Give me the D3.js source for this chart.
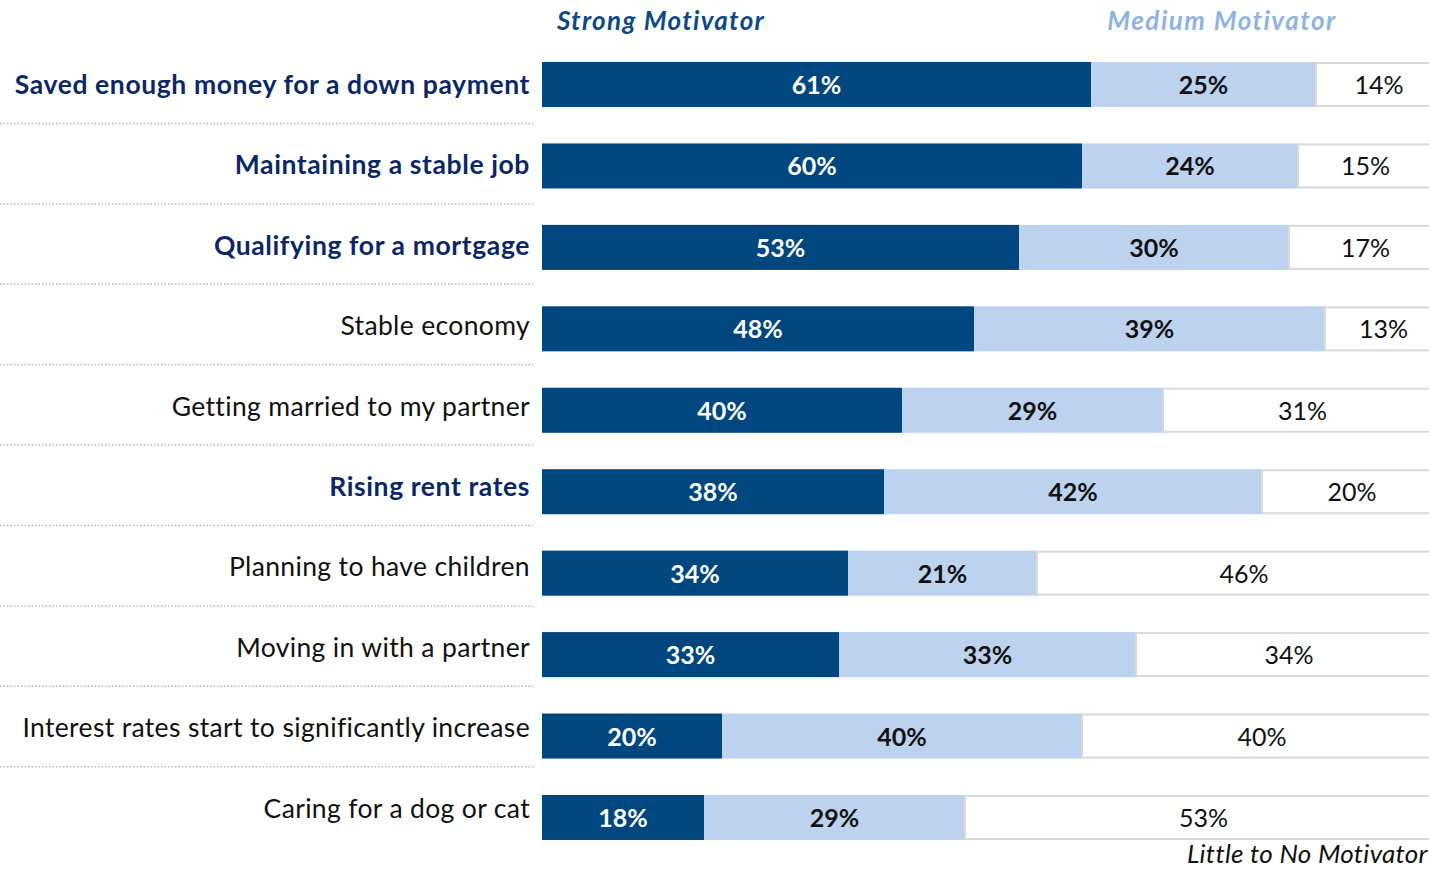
<!DOCTYPE html>
<html>
<head>
<meta charset="utf-8">
<script src="https://cdn.jsdelivr.net/npm/d3@7"></script>
<style>
  html, body { margin: 0; padding: 0; background: #fff; overflow: hidden; }
  svg { display: block; }
  text { font-family: Lato, "Open Sans", sans-serif; }
</style>
</head>
<body>
<svg id="chart" width="1429" height="869"></svg>
<script>
// Motivators for buying a home: share of respondents per level
const categories = [
  "Saved enough money for a down payment",
  "Maintaining a stable job",
  "Qualifying for a mortgage",
  "Stable economy",
  "Getting married to my partner",
  "Rising rent rates",
  "Planning to have children",
  "Moving in with a partner",
  "Interest rates start to significantly increase",
  "Caring for a dog or cat"
];
const highlighted = [true, true, true, false, false, true, false, false, false, false];
const strong = [61, 60, 53, 48, 40, 38, 34, 33, 20, 18];
const medium = [25, 24, 30, 39, 29, 42, 21, 33, 40, 29];
const little = [14, 15, 17, 13, 31, 20, 46, 34, 40, 53];
const seriesNames = ["Strong Motivator", "Medium Motivator", "Little to No Motivator"];

const svg = d3.select("#chart");

const x = d3.scaleLinear().domain([0, 100]).range([542, 1442]);
const y = d3.scaleBand().domain(categories).range([62, 840]).paddingInner(0.447).paddingOuter(0);
// category label baselines sit on their own slightly tighter grid
const yLabel = d3.scalePoint().domain(categories).range([94, 817.6]);

const colors = ["#00467f", "#bdd2ee", "#ffffff"];
const textColors = ["#ffffff", "#111111", "#111111"];
const textWeights = ["bold", "bold", "normal"];

const rows = categories.map((c, i) => {
  const vals = [strong[i], medium[i], little[i]];
  let acc = 0;
  const segs = vals.map((v, k) => {
    const s = { cat: c, k, v, x0: acc, x1: acc + v };
    acc += v;
    return s;
  });
  return { cat: c, segs };
});

// dotted separators between rows
svg.append("g").selectAll("line")
  .data(categories.slice(0, -1))
  .join("line")
  .attr("x1", 0).attr("x2", 533)
  .attr("y1", d => yLabel(d) + 29.5)
  .attr("y2", d => yLabel(d) + 29.5)
  .attr("stroke", "#b8b8b8")
  .attr("stroke-width", 1.5)
  .attr("stroke-dasharray", "1.5,2");

// stacked bars
const rowG = svg.append("g").selectAll("g")
  .data(rows)
  .join("g");

rowG.selectAll("rect")
  .data(d => d.segs)
  .join("rect")
  .attr("x", d => x(d.x0))
  .attr("y", d => y(d.cat) + (d.k === 2 ? 1 : 0))
  .attr("width", d => x(d.x1) - x(d.x0))
  .attr("height", d => y.bandwidth() - (d.k === 2 ? 2 : 0))
  .attr("fill", d => colors[d.k])
  .attr("stroke", d => d.k === 2 ? "#d9d9d9" : "none")
  .attr("stroke-width", 2);

rowG.selectAll("text")
  .data(d => d.segs)
  .join("text")
  .attr("x", d => (x(d.x0) + x(d.x1)) / 2)
  .attr("y", d => y(d.cat) + y.bandwidth() / 2 + 9.5)
  .attr("text-anchor", "middle")
  .attr("font-size", 25)
  .attr("font-weight", d => textWeights[d.k])
  .attr("fill", d => textColors[d.k])
  .text(d => d.v + "%");

// category labels
svg.append("g").selectAll("text")
  .data(categories)
  .join("text")
  .attr("x", 530)
  .attr("y", d => yLabel(d))
  .attr("text-anchor", "end")
  .attr("font-size", 26.5)
  .attr("letter-spacing", (d, i) => highlighted[i] ? 0.6 : 0.35)
  .attr("font-weight", (d, i) => highlighted[i] ? "bold" : "normal")
  .attr("fill", (d, i) => highlighted[i] ? "#0b2766" : "#111111")
  .text(d => d);

// series headings
svg.append("text")
  .attr("x", 661).attr("y", 30)
  .attr("text-anchor", "middle")
  .attr("font-size", 26).attr("letter-spacing", 1.3)
  .attr("font-weight", "bold").attr("font-style", "italic")
  .attr("fill", "#0d4a85")
  .text(seriesNames[0]);

svg.append("text")
  .attr("x", 1222).attr("y", 30)
  .attr("text-anchor", "middle")
  .attr("font-size", 26).attr("letter-spacing", 1.5)
  .attr("font-weight", "bold").attr("font-style", "italic")
  .attr("fill", "#8fb4e3")
  .text(seriesNames[1]);

svg.append("text")
  .attr("x", 1187).attr("y", 863)
  .attr("text-anchor", "start")
  .attr("font-size", 26).attr("letter-spacing", 0.3)
  .attr("font-style", "italic")
  .attr("fill", "#111111")
  .text(seriesNames[2]);
</script>
</body>
</html>
